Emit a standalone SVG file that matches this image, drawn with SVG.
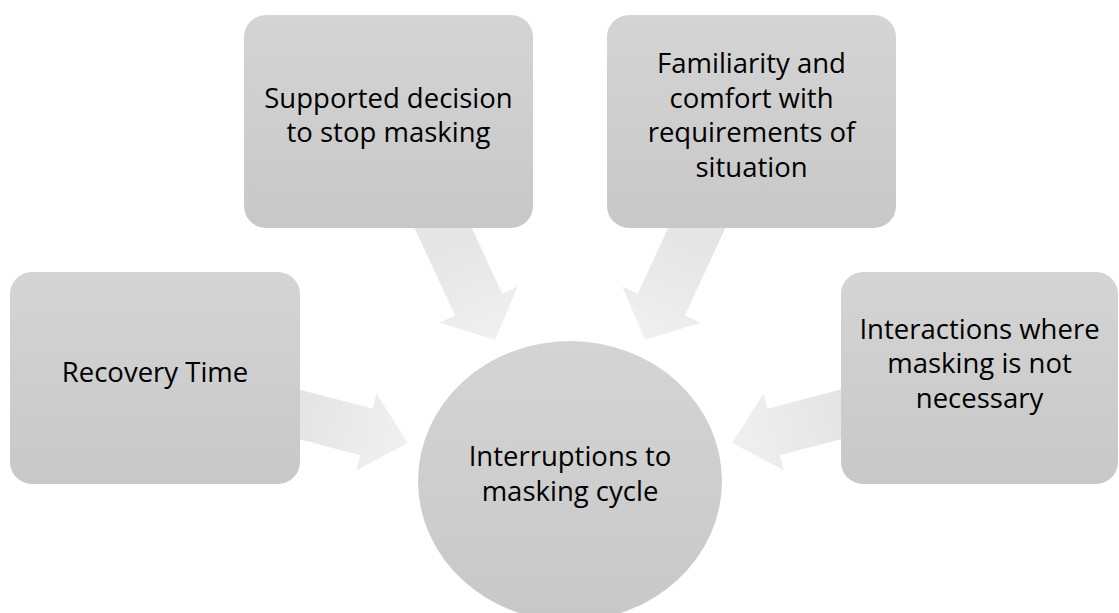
<svg xmlns="http://www.w3.org/2000/svg" width="1119" height="613" viewBox="0 0 1119 613">
  <style>
    .lbl { font-family: "Open Sans", "Liberation Sans", sans-serif; font-size: 27.5px; fill: #000000; text-anchor: middle; }
    .box { fill: url(#boxGrad); }
    .arrow { fill: url(#arrowGrad); }
  </style>
  <defs>
    <linearGradient id="boxGrad" x1="0" y1="0" x2="0" y2="1">
      <stop offset="0" stop-color="#d4d4d4"/>
      <stop offset="1" stop-color="#c8c8c8"/>
    </linearGradient>
    <linearGradient id="arrowGrad" gradientUnits="userSpaceOnUse" x1="-110" y1="0" x2="0" y2="0">
      <stop offset="0" stop-color="#e5e5e5"/>
      <stop offset="1" stop-color="#f0f0f0"/>
    </linearGradient>
    <polygon id="arrowA" points="-160,-26 -39,-26 -39,-43 0,0 -39,43 -39,26 -160,26"/>
    <polygon id="arrowB" points="-150,-24 -43,-24 -43,-39.5 0,0 -43,39.5 -43,24 -150,24"/>
  </defs>

  <g id="connectors">
    <use href="#arrowA" class="arrow" transform="translate(495,340) rotate(65.2)"/>
    <use href="#arrowA" class="arrow" transform="translate(645,340) rotate(114.8)"/>
    <use href="#arrowB" class="arrow" transform="translate(408,443) rotate(14.8)"/>
    <use href="#arrowB" class="arrow" transform="translate(732,443) rotate(165.2)"/>
  </g>

  <g id="node-center">
    <ellipse cx="570" cy="481" rx="152" ry="140" class="box"/>
    <text class="lbl" x="570" y="466">Interruptions to</text>
    <text class="lbl" x="570" y="500.5">masking cycle</text>
  </g>

  <g id="node-supported">
    <rect x="244" y="15" width="289" height="213" rx="22" ry="22" class="box"/>
    <text class="lbl" x="388.5" y="108">Supported decision</text>
    <text class="lbl" x="388.5" y="142">to stop masking</text>
  </g>

  <g id="node-familiarity">
    <rect x="607" y="15" width="289" height="213" rx="22" ry="22" class="box"/>
    <text class="lbl" x="751.5" y="73.3">Familiarity and</text>
    <text class="lbl" x="751.5" y="107.6">comfort with</text>
    <text class="lbl" x="751.5" y="142">requirements of</text>
    <text class="lbl" x="751.5" y="176.5">situation</text>
  </g>

  <g id="node-recovery">
    <rect x="10" y="272" width="290" height="212" rx="22" ry="22" class="box"/>
    <text class="lbl" x="155" y="382">Recovery Time</text>
  </g>

  <g id="node-interactions">
    <rect x="841" y="272" width="277" height="212" rx="22" ry="22" class="box"/>
    <text class="lbl" x="979.5" y="338.5">Interactions where</text>
    <text class="lbl" x="979.5" y="373">masking is not</text>
    <text class="lbl" x="979.5" y="407.5">necessary</text>
  </g>
</svg>
